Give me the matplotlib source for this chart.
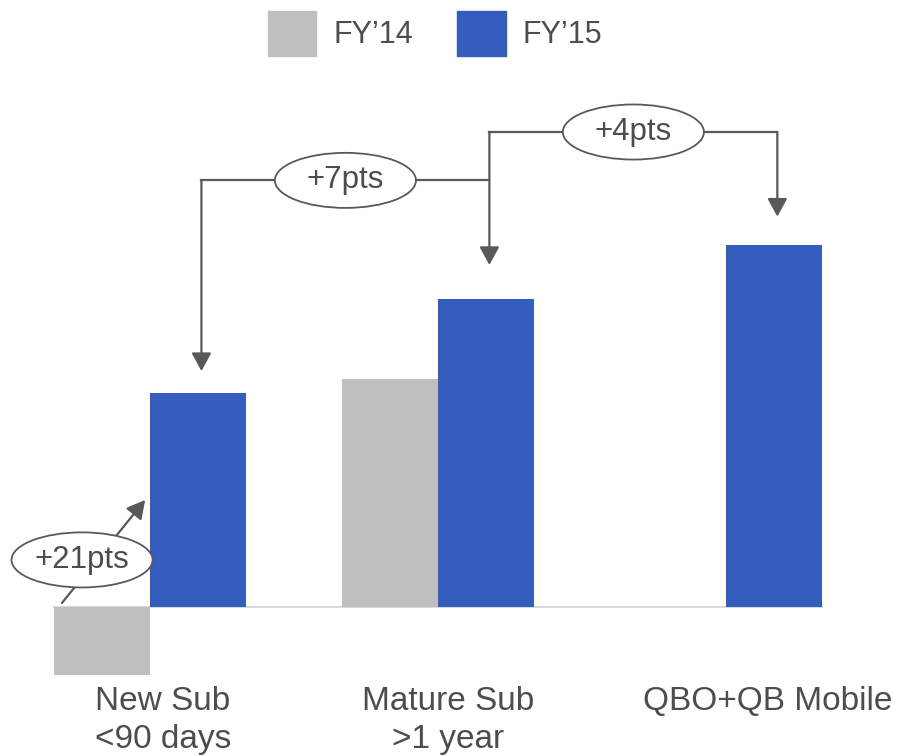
import matplotlib.pyplot as plt
import numpy as np
from matplotlib.patches import Ellipse, Patch

plt.rcParams['font.family'] = ['Liberation Sans', 'DejaVu Sans']

# values in pts
categories = ['New Sub\n<90 days', 'Mature Sub\n>1 year', 'QBO+QB Mobile']
fy14 = [-5, 17, np.nan]
fy15 = [16, 23, 27]
series_names = ['FY\u201914', 'FY\u201915']

c14 = '#BFBFBF'
c15 = '#355DBD'
ink = '#595959'
txt = '#4D4D4D'

fig = plt.figure(figsize=(8.99, 7.56), dpi=100)
ax = fig.add_axes([0, 0, 1, 1])
ax.set_xlim(-0.521, 2.601)
ax.set_ylim(-11.06, 45.23)
ax.axis('off')

x = np.arange(len(categories))
w = 0.333
ax.bar(x - w / 2, fy14, w, color=c14, zorder=2)
ax.bar(x + w / 2, fy15, w, color=c15, zorder=2)
ax.plot([x[0] - w, x[-1] + w], [0, 0], color='#D9D9D9', lw=1.5, zorder=1)

# category labels under the bars
label_x = x + np.array([0.045, 0.035, 0.146])
for lx, lab in zip(label_x, categories):
    ax.text(lx, -5.85, lab, ha='center', va='top', fontsize=24,
            color=txt, linespacing=1.27)

# legend
handles = [Patch(color=c14), Patch(color=c15)]
ax.legend(handles, series_names, loc='upper center', bbox_to_anchor=(0.484, 1.022),
          ncol=2, frameon=False, fontsize=22, handlelength=1.58, handleheight=1.9,
          handletextpad=0.55, columnspacing=1.45, labelcolor=txt)

arrow = dict(arrowstyle='-|>,head_length=0.55,head_width=0.3', color=ink,
             lw=1.6, mutation_scale=20, shrinkA=0, shrinkB=0)


def bubble(cx, cy, s):
    ax.add_patch(Ellipse((cx, cy), 0.49, 4.1, facecolor='white', edgecolor=ink,
                         lw=1.3, zorder=5))
    ax.text(cx, cy, s, ha='center', va='center', fontsize=22.5, color=txt, zorder=6)


# step-up brackets between FY'15 bars
bx = x + w / 2 + 0.012
tips = [f + g for f, g in zip(fy15, [1.6, 2.5, 2.1])]
lvl = [31.8, 35.4]

ax.plot([bx[0], bx[1]], [lvl[0], lvl[0]], color=ink, lw=1.6, zorder=3)
ax.plot([bx[1], bx[2]], [lvl[1], lvl[1]], color=ink, lw=1.6, zorder=3)
ax.annotate('', xy=(bx[0], tips[0]), xytext=(bx[0], lvl[0]), arrowprops=arrow)
ax.annotate('', xy=(bx[1], tips[1]), xytext=(bx[1], lvl[1]), arrowprops=arrow)
ax.annotate('', xy=(bx[2], tips[2]), xytext=(bx[2], lvl[1]), arrowprops=arrow)

bubble((bx[0] + bx[1]) / 2, lvl[0], f'+{fy15[1] - fy15[0]:.0f}pts')
bubble((bx[1] + bx[2]) / 2, lvl[1], f'+{fy15[2] - fy15[1]:.0f}pts')

# year-over-year jump for new subscribers
ax.annotate('', xy=(-0.017, 8.0), xytext=(-0.306, 0.33), arrowprops=arrow)
bubble(-0.236, 3.54, f'+{fy15[0] - fy14[0]:.0f}pts')

fig.savefig('out.png', dpi=100)
